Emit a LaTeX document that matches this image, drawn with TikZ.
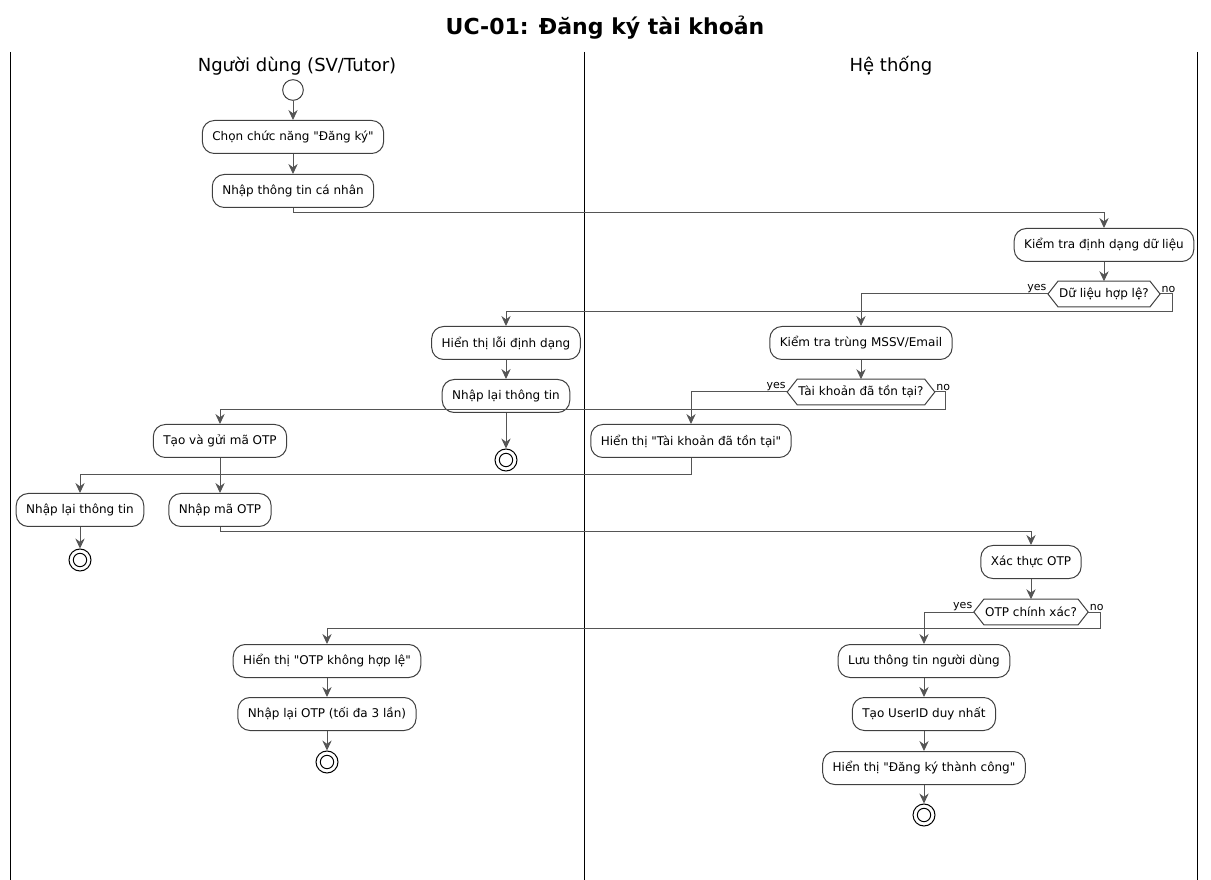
\documentclass[tikz,border=0pt]{standalone}
\usepackage{fontspec}
\setmainfont{DejaVu Sans}[Ligatures=TeXOff]
\usetikzlibrary{arrows.meta}
\definecolor{edgec}{HTML}{555555}
\definecolor{boxc}{HTML}{404040}
\newcommand\hexdraw[1]{\draw[boxc, line width=0.75pt, fill=white] (#1.west) -- ([xshift=7.5pt]#1.north west) -- ([xshift=-7.5pt]#1.north east) -- (#1.east) -- ([xshift=-7.5pt]#1.south east) -- ([xshift=7.5pt]#1.south west) -- cycle;}
\tikzset{
  act/.style={draw=boxc, line width=0.75pt, fill=white, rounded corners=9pt, minimum height=24.75pt, inner xsep=7.5pt, inner ysep=0pt, font=\fontsize{9}{11}\selectfont},
  dec/.style={minimum height=18.75pt, inner xsep=8.25pt, inner ysep=0pt, font=\fontsize{9}{11}\selectfont},
  arr/.style={draw=edgec, line width=0.75pt, -{Stealth[length=7.5pt, width=7pt, inset=2.5pt]}},
  lbl/.style={font=\fontsize{8.25}{10}\selectfont, inner sep=1pt},
  startc/.style={circle, draw=boxc, line width=0.75pt, fill=white, minimum size=15.5pt, inner sep=0pt},
  endc/.style={circle, draw=black, line width=0.75pt, fill=white, minimum size=16.5pt, inner sep=0pt,
    path picture={\draw[black, line width=0.75pt] (path picture bounding box.center) circle (5pt);}},
  lane/.style={draw=black, line width=0.75pt},
  lanetitle/.style={font=\fontsize{13.5}{16}\selectfont},
}
\begin{document}
\begin{tikzpicture}[x=0.75pt,y=-0.75pt]
\useasboundingbox (0,0) rectangle (1211,880);
\node[font=\bfseries\fontsize{16.5}{20}\selectfont] (title) at (605,28) {UC-01: Đăng ký tài khoản};
\coordinate (l1t) at (10,52); \coordinate (l1b) at (10,880);
\coordinate (l2t) at (584,52); \coordinate (l2b) at (584,880);
\coordinate (l3t) at (1197,52); \coordinate (l3b) at (1197,880);
\draw[lane] (l1t) -- (l1b);
\draw[lane] (l2t) -- (l2b);
\draw[lane] (l3t) -- (l3b);
\node[lanetitle] (t1) at (297,66) {Người dùng (SV/Tutor)};
\node[lanetitle] (t2) at (891,66) {Hệ thống};

\node[startc] (s) at (293,90) {};
\node[act] (a1) at (293,137) {Chọn chức năng "Đăng ký"};
\node[act] (a2) at (293,191) {Nhập thông tin cá nhân};
\node[act] (b1) at (1104,245) {Kiểm tra định dạng dữ liệu};
\node[dec] (d1) at (1104,294) {Dữ liệu hợp lệ?};
\hexdraw{d1}
\node[dec] at (d1) {Dữ liệu hợp lệ?};
\node[act] (b2) at (861,343) {Kiểm tra trùng MSSV/Email};
\node[act] (c1) at (506,343) {Hiển thị lỗi định dạng};
\node[act] (c2) at (506,396) {Nhập lại thông tin};
\node[endc] (e1) at (506,460) {};
\node[dec] (d2) at (861,392) {Tài khoản đã tồn tại?};
\hexdraw{d2}
\node[dec] at (d2) {Tài khoản đã tồn tại?};
\node[act] (c3) at (691,441) {Hiển thị "Tài khoản đã tồn tại"};
\node[act] (u1) at (220,441) {Tạo và gửi mã OTP};
\node[act] (u2) at (80,510) {Nhập lại thông tin};
\node[endc] (e2) at (80,560) {};
\node[act] (u3) at (220,510) {Nhập mã OTP};
\node[act] (b3) at (1031,562) {Xác thực OTP};
\node[dec] (d3) at (1031,612) {OTP chính xác?};
\hexdraw{d3}
\node[dec] at (d3) {OTP chính xác?};
\node[act] (b4) at (924,661) {Lưu thông tin người dùng};
\node[act] (b5) at (924,714) {Tạo UserID duy nhất};
\node[act] (b6) at (924,768) {Hiển thị "Đăng ký thành công"};
\node[endc] (e4) at (924,815) {};
\node[act] (v1) at (327,661) {Hiển thị "OTP không hợp lệ"};
\node[act] (v2) at (327,714) {Nhập lại OTP (tối đa 3 lần)};
\node[endc] (e3) at (327,762) {};

% edges
\draw[arr] (s) -- (a1);
\draw[arr] (a1) -- (a2);
\draw[arr] (a2.south) -- ++(0,5) -| (b1.north);
\draw[arr] (b1) -- (d1);
\draw[arr] (d1.west) -| (b2.north);
\draw[arr] (d1.east) -- ++(12,0) -- ++(0,18) -| (c1.north);
\node[lbl, anchor=south east] (y1) at (d1.west) {yes};
\node[lbl, anchor=south west] (n1) at (d1.east) {no};
\draw[arr] (c1) -- (c2);
\draw[arr] (c2) -- (e1);
\draw[arr] (b2) -- (d2);
\draw[arr] (d2.west) -| (c3.north);
\draw[arr] (d2.east) -- ++(11,0) -- ++(0,18) -| (u1.north);
\node[lbl, anchor=south east] (y2) at (d2.west) {yes};
\node[lbl, anchor=south west] (n2) at (d2.east) {no};
\draw[arr] (c3.south) -- ++(0,17) -| (u2.north);
\draw[arr] (u2) -- (e2);
\draw[arr] (u1) -- (u3);
\draw[arr] (u3.south) -- ++(0,5) -| (b3.north);
\draw[arr] (b3) -- (d3);
\draw[arr] (d3.west) -| (b4.north);
\draw[arr] (d3.east) -- ++(12,0) -- ++(0,16) -| (v1.north);
\node[lbl, anchor=south east] (y3) at (d3.west) {yes};
\node[lbl, anchor=south west] (n3) at (d3.east) {no};
\draw[arr] (b4) -- (b5);
\draw[arr] (b5) -- (b6);
\draw[arr] (b6) -- (e4);
\draw[arr] (v1) -- (v2);
\draw[arr] (v2) -- (e3);
\end{tikzpicture}
\end{document}
